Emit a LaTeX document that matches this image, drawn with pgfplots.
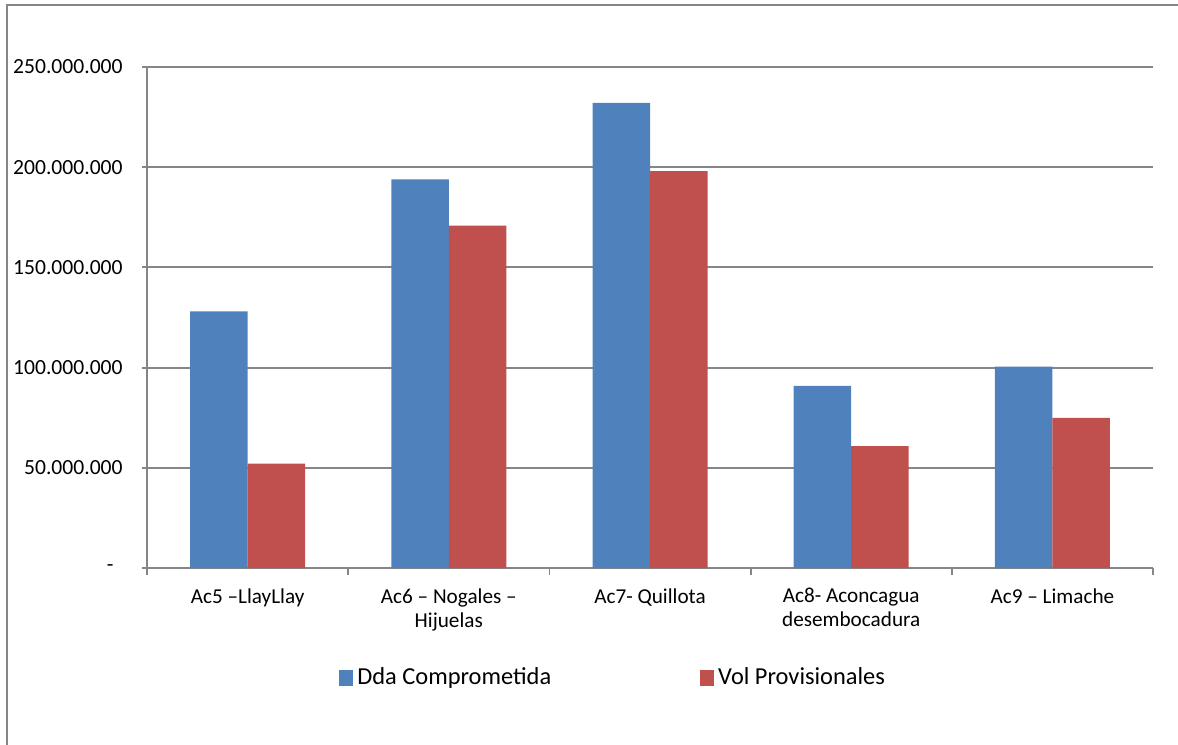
\documentclass[border=0pt]{standalone}
\usepackage{pgfplots}
\pgfplotsset{compat=1.18}
\usepackage{fontspec}
\setmainfont{Carlito}
\definecolor{cblue}{HTML}{4F81BD}
\definecolor{cred}{HTML}{C0504D}
\definecolor{cgrid}{HTML}{868686}
\begin{document}
\fontsize{10.5bp}{12bp}\selectfont
\begin{tikzpicture}
\useasboundingbox (-73.5bp,-88.5bp) rectangle (515.5bp,284bp);
\draw[cgrid, line width=0.9bp] (-70bp,-120bp) rectangle (540bp,281.5bp);
\begin{axis}[
  at={(0,0)}, anchor=south west,
  scale only axis, width=503bp, height=250.5bp,
  ybar=0pt, bar width=28.75bp,
  xmin=-0.5, xmax=4.5, ymin=0, ymax=250000000,
  scaled y ticks=false,
  axis x line*=bottom, axis y line*=left,
  axis line style={cgrid, line width=0.9bp},
  xtick={0,1,2,3,4},
  xticklabels={{Ac5 --LlayLlay},{Ac6 -- Nogales --\\Hijuelas},{Ac7- Quillota},{Ac8- Aconcagua\\desembocadura},{Ac9 -- Limache}},
  major x tick style={draw=none},
  minor xtick={-0.5,0.5,1.5,2.5,3.5,4.5},
  minor x tick style={cgrid, line width=0.9bp},
  minor tick length=3.5bp,
  xticklabel style={align=center, anchor=north, yshift=-4bp, font=\fontsize{10.6bp}{12bp}\selectfont},
  ytick={0,50000000,100000000,150000000,200000000,250000000},
  yticklabels={{-\rule{4.5bp}{0pt}},50.000.000,100.000.000,150.000.000,200.000.000,250.000.000},
  yticklabel style={anchor=east, xshift=-6bp, font=\fontsize{10.8bp}{12bp}\selectfont},
  major y tick style={cgrid, line width=0.9bp},
  tick align=outside, major tick length=2.5bp,
  ymajorgrids, grid style={cgrid, line width=0.9bp},
  legend columns=2,
  legend style={at={(rel axis cs:0.1909,-0.2196)}, anchor=west, draw=none, fill=none,
    inner sep=0pt, font=\fontsize{12.2bp}{14bp}\selectfont,
    /tikz/every even column/.append style={column sep=72.5bp}},
  legend image code/.code={\fill[#1] (0bp,-4bp) rectangle (7bp,4bp);},
]
\addplot[fill=cblue, draw=none] coordinates {(0,128100000) (1,193900000) (2,232100000) (3,90900000) (4,100500000)};
\addplot[fill=cred, draw=none] coordinates {(0,52100000) (1,170900000) (2,198000000) (3,60800000) (4,74900000)};
\legend{Dda Comprometida, Vol Provisionales}
\end{axis}
\end{tikzpicture}
\end{document}
